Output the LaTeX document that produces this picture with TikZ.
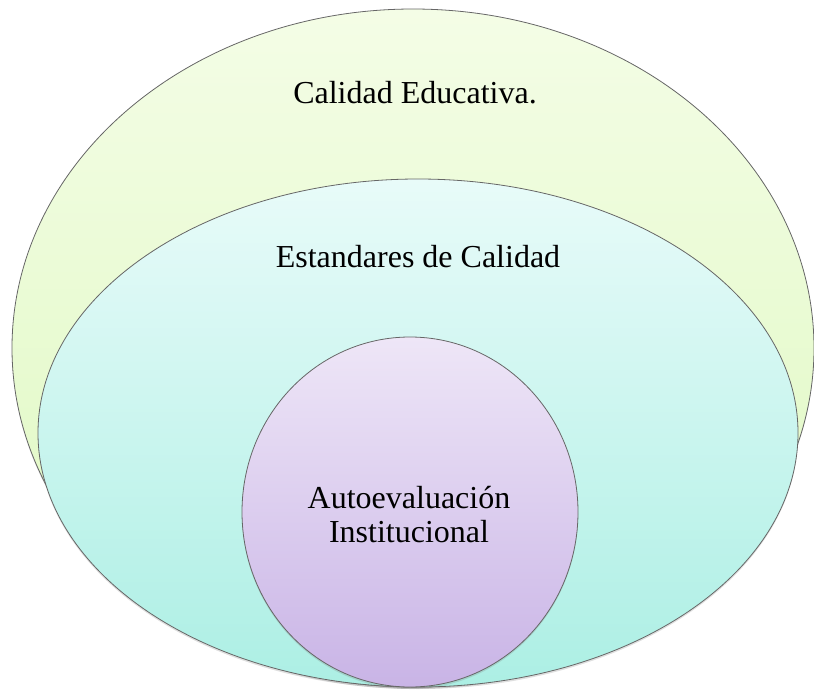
\documentclass[tikz,border=0pt]{standalone}
\usepackage{fontspec}
\setmainfont{Liberation Serif}
\usetikzlibrary{shapes.geometric,shadows}
\definecolor{verdeA}{HTML}{F4FDE6}
\definecolor{verdeB}{HTML}{DDF8BE}
\definecolor{cianA}{HTML}{E8FBF9}
\definecolor{cianB}{HTML}{ACEFE4}
\definecolor{lilaA}{HTML}{EEE6F7}
\definecolor{lilaB}{HTML}{C9B4E6}

\begin{document}
\begin{tikzpicture}[
	x=1pt, y=-1pt,
	ring/.style = {
		ellipse,draw=black!60,
		line width=0.8pt,
		inner sep=0pt,
		drop shadow={opacity=0.25,shadow xshift=0pt,shadow yshift=-2pt},
	},
	lbl/.style = {font=\fontsize{32}{34}\selectfont, inner sep=0pt},
]
\useasboundingbox (0,0) rectangle (814,691);

% outer ellipse
\node [ring,
	minimum width=802pt,
	minimum height=678pt,
	top color=verdeA, bottom color=verdeB,
] (calidad) at (413,348) {};

% middle ellipse
\node [ring,
	minimum width=760pt,
	minimum height=508pt,
	top color=cianA, bottom color=cianB,
] (estandares) at (418,433) {};

% inner circle
\node [ring,
	minimum width=336pt,
	minimum height=350pt,
	top color=lilaA, bottom color=lilaB,
] (autoeval) at (410,512) {};

% texts
\node [lbl, anchor=base] (calidadtxt) at (415,103) {Calidad Educativa.};
\node [lbl, anchor=base] (estandarestxt) at (418,267) {Estandares de Calidad};
\node [lbl, align=center] (autoevaltxt) at (409,515) {Autoevaluación\\Institucional};

\end{tikzpicture}
\end{document}
